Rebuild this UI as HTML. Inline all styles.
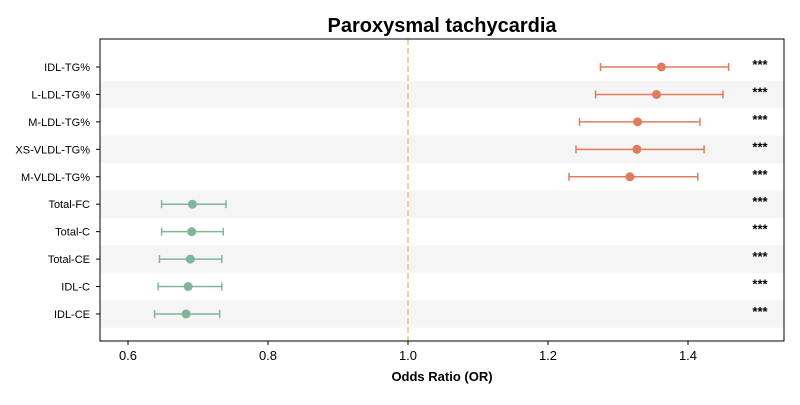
<!DOCTYPE html>
<html><head><meta charset="utf-8"><style>
body{margin:0;background:#fff;}
svg{font-family:"Liberation Sans","DejaVu Sans",sans-serif;}
</style></head><body>
<svg id="chart" width="800" height="400" viewBox="0 0 800 400">
<text x="442" y="32" text-anchor="middle" font-size="20" font-weight="bold">Paroxysmal tachycardia</text>
<g id="bands"></g>
<g id="grid"></g>
<g id="marks"></g>
<g id="axes"></g>
<text x="442" y="381" text-anchor="middle" font-size="13" font-weight="bold">Odds Ratio (OR)</text>
</svg>
<script>
const categories=["IDL-TG%","L-LDL-TG%","M-LDL-TG%","XS-VLDL-TG%","M-VLDL-TG%","Total-FC","Total-C","Total-CE","IDL-C","IDL-CE"];
const orValues=[1.362,1.355,1.328,1.327,1.317,0.692,0.691,0.689,0.686,0.683];
const lowerCI=[1.275,1.268,1.245,1.240,1.230,0.648,0.648,0.645,0.643,0.638];
const upperCI=[1.458,1.450,1.417,1.423,1.414,0.740,0.736,0.734,0.734,0.731];
const sigLabels=["***","***","***","***","***","***","***","***","***","***"];
const xTicks=[0.6,0.8,1.0,1.2,1.4];
const xTickLabels=["0.6","0.8","1.0","1.2","1.4"];
const refValue=1.0;

const NS="http://www.w3.org/2000/svg";
const L=100,R=784,T=39,B=341;
function xs(v){return 128+(v-0.6)*700;}
const step=27.44, y0=67;
function ys(i){return y0+i*step;}
function mk(tag,attrs,parent){const e=document.createElementNS(NS,tag);for(const k in attrs)e.setAttribute(k,attrs[k]);parent.appendChild(e);return e;}
const bands=document.getElementById('bands'),grid=document.getElementById('grid'),marks=document.getElementById('marks'),axes=document.getElementById('axes');

categories.forEach((c,i)=>{
  if(i%2===1){
    const r=mk('rect',{x:L,y:ys(i)-step/2,width:R-L,height:step,fill:'#f5f5f5'},bands);
    
    
  }
});
const ref=mk('line',{x1:xs(refValue),x2:xs(refValue),y1:T,y2:B,stroke:'#f3bd76','stroke-width':1.5,'stroke-dasharray':'6,3'},grid);



categories.forEach((c,i)=>{
  const col=orValues[i]>=1?'#e07b5f':'#82b49a';
  const y=ys(i);
  const g=mk('g',{},marks);
  
  
  mk('line',{x1:xs(lowerCI[i]),x2:xs(upperCI[i]),y1:y,y2:y,stroke:col,'stroke-width':1.5},g);
  mk('line',{x1:xs(lowerCI[i]),x2:xs(lowerCI[i]),y1:y-4,y2:y+4,stroke:col,'stroke-width':1.5},g);
  mk('line',{x1:xs(upperCI[i]),x2:xs(upperCI[i]),y1:y-4,y2:y+4,stroke:col,'stroke-width':1.5},g);
  mk('circle',{cx:xs(orValues[i]),cy:y,r:4.5,fill:col},g);
  const s=mk('text',{x:760,y:y+2,'font-size':13,'font-weight':'bold','text-anchor':'middle'},marks);
  s.textContent=sigLabels[i];
  
  
  const t=mk('text',{x:90,y:y+4,'font-size':11,'text-anchor':'end'},axes);
  t.textContent=c;
  
  
  mk('line',{x1:96,x2:100,y1:y,y2:y,stroke:'#000'},axes);
});
const frame=mk('rect',{x:L,y:T,width:R-L,height:B-T,fill:'none',stroke:'#000','stroke-width':1},axes);


xTicks.forEach((v,i)=>{
  mk('line',{x1:xs(v),x2:xs(v),y1:B,y2:B+4,stroke:'#000'},axes);
  const t=mk('text',{x:xs(v),y:B+19,'font-size':13,'text-anchor':'middle'},axes);
  t.textContent=xTickLabels[i];
  
  
});
</script>
</body></html>
